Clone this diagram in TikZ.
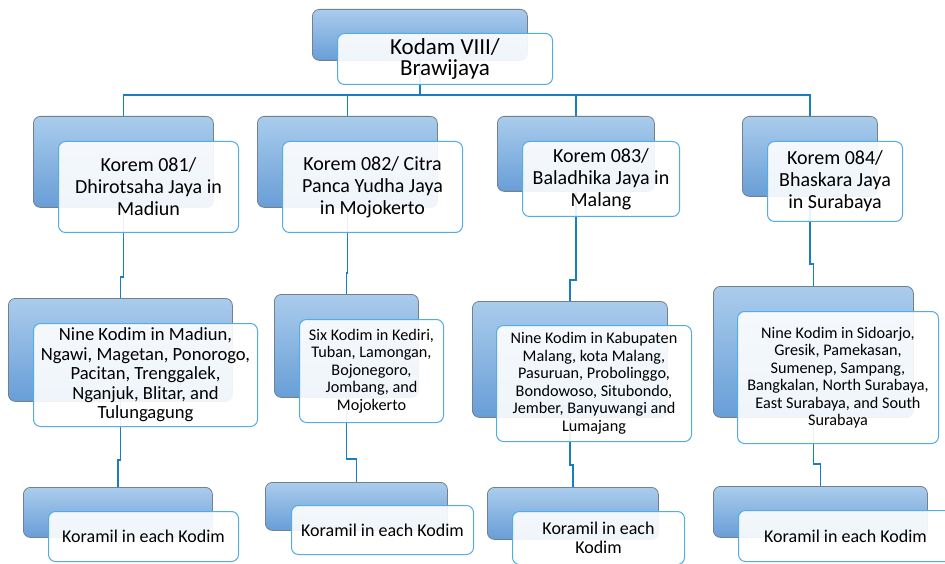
\documentclass[tikz,border=0pt]{standalone}
\usepackage{fontspec}
\setmainfont{Carlito}
\usetikzlibrary{positioning}
\definecolor{backtop}{RGB}{170,204,236}
\definecolor{backbot}{RGB}{104,158,215}
\definecolor{backrim}{RGB}{118,128,140}
\definecolor{cardrim}{RGB}{84,172,226}
\definecolor{linkblue}{RGB}{24,126,196}
\pgfdeclarelayer{links}
\pgfsetlayers{links,main}

\begin{document}
\begin{tikzpicture}[x=1pt, y=-1pt,
        back/.style={draw=backrim, line width=.8pt, top color=backtop, bottom color=backbot, rounded corners=7pt, anchor=north west, inner sep=0pt},
        card/.style={draw=cardrim, line width=1pt, fill=white, fill opacity=.9, text opacity=1, text=black, rounded corners=7pt, align=center, inner sep=0pt},
        boxsize/.style 2 args={minimum width=#1pt, minimum height=#2pt},
        link/.style={draw=linkblue, line width=1.8pt},
        kodamtext/.style={font=\fontsize{23}{21}\selectfont},
        koremtext/.style={font=\fontsize{20}{22}\selectfont},
        kodimtext/.style={font=\fontsize{16.2}{17.5}\selectfont},
        koramiltext/.style={font=\fontsize{18}{18.5}\selectfont}]
    \useasboundingbox (0,0) rectangle (945,564);

    % Kodam
    \node[back, boxsize={215}{51}] (kodamb) at (312,9) {};
    \node[card, boxsize={215}{51}, below right=24pt and 25pt of kodamb.north west, kodamtext] (kodam) {Kodam VIII/\\Brawijaya};

    % Korem
    \node[back, boxsize={180}{91}] (k1b) at (33,116) {};
    \node[card, boxsize={180}{91}, below right=25pt and 25pt of k1b.north west, koremtext] (k1) {Korem 081/\\Dhirotsaha Jaya in\\Madiun};
    \node[back, boxsize={180}{91}] (k2b) at (257,116) {};
    \node[card, boxsize={180}{91}, below right=25pt and 25pt of k2b.north west, koremtext] (k2) {Korem 082/ Citra\\Panca Yudha Jaya\\in Mojokerto};
    \node[back, boxsize={157}{75}] (k3b) at (497,116) {};
    \node[card, boxsize={157}{75}, below right=25pt and 25pt of k3b.north west, koremtext] (k3) {Korem 083/\\Baladhika Jaya in\\Malang};
    \node[back, boxsize={135}{80}] (k4b) at (742,116) {};
    \node[card, boxsize={135}{80}, below right=25pt and 25pt of k4b.north west, koremtext] (k4) {Korem 084/\\Bhaskara Jaya\\in Surabaya};

    % Kodim
    \node[back, boxsize={224}{103}] (d1b) at (8,298) {};
    \node[card, boxsize={224}{103}, below right=25pt and 25pt of d1b.north west, font=\fontsize{18.6}{19.5}\selectfont] (d1) {Nine Kodim in Madiun,\\Ngawi, Magetan, Ponorogo,\\Pacitan, Trenggalek,\\Nganjuk, Blitar, and\\Tulungagung};
    \node[back, boxsize={144}{103}] (d2b) at (274,294) {};
    \node[card, boxsize={144}{103}, below right=25pt and 25pt of d2b.north west, kodimtext] (d2) {Six Kodim in Kediri,\\Tuban, Lamongan,\\Bojonegoro,\\Jombang, and\\Mojokerto};
    \node[back, boxsize={195}{116}] (d3b) at (472,301) {};
    \node[card, boxsize={195}{116}, below right=24pt and 24pt of d3b.north west, kodimtext] (d3) {Nine Kodim in Kabupaten\\Malang, kota Malang,\\Pasuruan, Probolinggo,\\Bondowoso, Situbondo,\\Jember, Banyuwangi and\\Lumajang};
    \node[back, boxsize={200}{131}] (d4b) at (713,286) {};
    \node[card, boxsize={201}{132}, below right=25pt and 24pt of d4b.north west, kodimtext] (d4) {Nine Kodim in Sidoarjo,\\Gresik, Pamekasan,\\Sumenep, Sampang,\\Bangkalan, North Surabaya,\\East Surabaya, and South\\Surabaya};

    % Koramil
    \node[back, boxsize={189}{50}] (r1b) at (23,487) {};
    \node[card, boxsize={190}{50}, below right=24pt and 25pt of r1b.north west, koramiltext] (r1) {Koramil in each Kodim};
    \node[back, boxsize={182}{48}] (r2b) at (265,482) {};
    \node[card, boxsize={182}{49}, below right=23pt and 26pt of r2b.north west, koramiltext] (r2) {Koramil in each Kodim};
    \node[back, boxsize={171}{52}] (r3b) at (487,487) {};
    \node[card, boxsize={172}{53}, below right=24pt and 25pt of r3b.north west, koramiltext] (r3) {Koramil in each\\Kodim};
    \node[back, boxsize={214}{51}] (r4b) at (713,486) {};
    \node[card, boxsize={214}{51}, below right=24pt and 25pt of r4b.north west, koramiltext] (r4) {Koramil in each Kodim};

    \begin{pgfonlayer}{links}
        \draw[link] (kodamb.south) -- (kodamb.south |- 0,95) coordinate (bus);
        \foreach \k in {k1b,k2b,k3b,k4b}
            \draw[link] (bus) -| (\k.north);
        \draw[link] (k1b.south) -- (k1b.south |- 0,277) -| (d1b.north);
        \draw[link] (k2b.south) -- (k2b.south |- 0,273) -| (d2b.north);
        \draw[link] (k3b.south) -- (k3b.south |- 0,280) -| (d3b.north);
        \draw[link] (k4b.south) -- (k4b.south |- 0,264) -| (d4b.north);
        \draw[link] (d1b.south) -- (d1b.south |- 0,460) -| (r1b.north);
        \draw[link] (d2b.south) -- (d2b.south |- 0,459) -| (r2b.north);
        \draw[link] (d3b.south) -- (d3b.south |- 0,465) -| (r3b.north);
        \draw[link] (d4b.south) -- (d4b.south |- 0,464) -| (r4b.north);
    \end{pgfonlayer}
\end{tikzpicture}
\end{document}
